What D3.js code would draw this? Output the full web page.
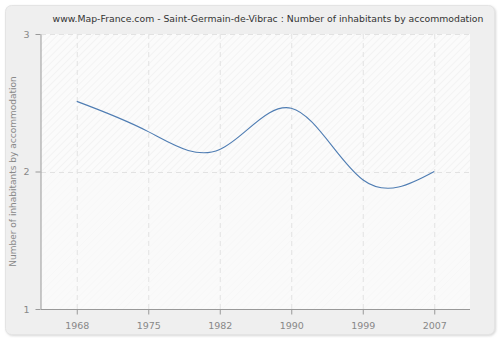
<!DOCTYPE html>
<html>
<head>
<meta charset="utf-8">
<script src="https://cdn.jsdelivr.net/npm/d3@7"></script>
<style>
body{margin:0;background:#fff;}
svg{display:block;font-family:"DejaVu Sans",Verdana,sans-serif;}
</style>
</head>
<body>
<svg id="chart"></svg>
<script>
// values
var years=["1968","1975","1982","1990","1999","2007"];
var inhabitants=[2.51,2.29,2.16,2.46,1.94,2.0];
var yTicks=[1,2,3];

var width=500;
var height=340;
var pLeft=41, pRight=470, pTop=34, pBottom=309;

var svg=d3.select("#chart")
  .attr("width",width)
  .attr("height",height);

var defs=svg.append("defs");
var pat=defs.append("pattern")
  .attr("id","hatch")
  .attr("patternUnits","userSpaceOnUse")
  .attr("width",5)
  .attr("height",5)
  .attr("patternTransform","rotate(45)");
pat.append("rect").attr("width",5).attr("height",5).attr("fill","#fbfbfb");
pat.append("line").attr("x1",0).attr("y1",0).attr("x2",0).attr("y2",5)
  .attr("stroke","#ececec").attr("stroke-width",1);

var shadow=defs.append("filter").attr("id","sh");
shadow.append("feDropShadow").attr("dx",1).attr("dy",1).attr("stdDeviation",1)
  .attr("flood-color","#bbb").attr("flood-opacity",0.6);

// panel
svg.append("rect")
  .attr("x",5.5).attr("y",5.5)
  .attr("width",489).attr("height",329)
  .attr("rx",6)
  .attr("fill","#efefef")
  .attr("stroke","#e4e4e4")
  .attr("filter","url(#sh)");

svg.append("text")
  .attr("x",268).attr("y",22)
  .attr("text-anchor","middle")
  .attr("font-size",9.3)
  .attr("fill","#333")
  .text("www.Map-France.com - Saint-Germain-de-Vibrac : Number of inhabitants by accommodation");

var x=d3.scalePoint()
  .domain(years)
  .range([pLeft,pRight])
  .padding(0.5);

var y=d3.scaleLinear()
  .domain([1,3])
  .range([pBottom,pTop]);

// plot background
svg.append("rect")
  .attr("x",pLeft).attr("y",pTop)
  .attr("width",pRight-pLeft).attr("height",pBottom-pTop)
  .attr("fill","url(#hatch)");
svg.append("rect")
  .attr("x",pLeft).attr("y",y(2))
  .attr("width",pRight-pLeft).attr("height",pBottom-y(2))
  .attr("fill","#fafafa").attr("opacity",0.6);

// grid
svg.selectAll(".vgrid")
  .data(years)
  .enter()
  .append("line")
  .attr("x1",function(d){return x(d)+0.5;})
  .attr("x2",function(d){return x(d)+0.5;})
  .attr("y1",pTop).attr("y2",pBottom)
  .attr("stroke","#e2e2e2")
  .attr("stroke-dasharray","5,4");

svg.selectAll(".hgrid")
  .data(yTicks)
  .enter()
  .append("line")
  .attr("x1",pLeft).attr("x2",pRight)
  .attr("y1",function(d){return Math.round(y(d))+0.5;})
  .attr("y2",function(d){return Math.round(y(d))+0.5;})
  .attr("stroke","#e2e2e2")
  .attr("stroke-dasharray","5,4");

// axes
var xAxis=svg.append("g")
  .attr("transform","translate(0,"+(pBottom+0.5)+")")
  .call(d3.axisBottom(x).tickSize(5).tickSizeOuter(0));
xAxis.select(".domain").attr("stroke","#999").attr("d","M"+pLeft+",0H"+pRight);
xAxis.selectAll(".tick line").attr("stroke","#999");
xAxis.selectAll("text").attr("fill","#888").attr("font-size",9.5)
  .attr("font-family","DejaVu Sans, sans-serif").attr("dy","1.25em");

var yAxis=svg.append("g")
  .attr("transform","translate("+(pLeft-0.5)+",0)")
  .call(d3.axisLeft(y).tickValues(yTicks).tickFormat(d3.format("d")).tickSize(5).tickSizeOuter(0));
yAxis.select(".domain").attr("stroke","#999");
yAxis.selectAll(".tick line").attr("stroke","#999");
yAxis.selectAll("text").attr("fill","#888").attr("font-size",9.5)
  .attr("font-family","DejaVu Sans, sans-serif").attr("dx","-0.3em");

svg.append("text")
  .attr("transform","translate(16,"+((pTop+pBottom)/2)+") rotate(-90)")
  .attr("text-anchor","middle")
  .attr("font-size",9)
  .attr("fill","#888")
  .text("Number of inhabitants by accommodation");

// line
var line=d3.line()
  .x(function(d,i){return x(years[i]);})
  .y(function(d){return y(d);})
  .curve(d3.curveNatural);

svg.append("path")
  .datum(inhabitants)
  .attr("d",line)
  .attr("fill","none")
  .attr("stroke","#4f7db3")
  .attr("stroke-width",1.1);
</script>
</body>
</html>
